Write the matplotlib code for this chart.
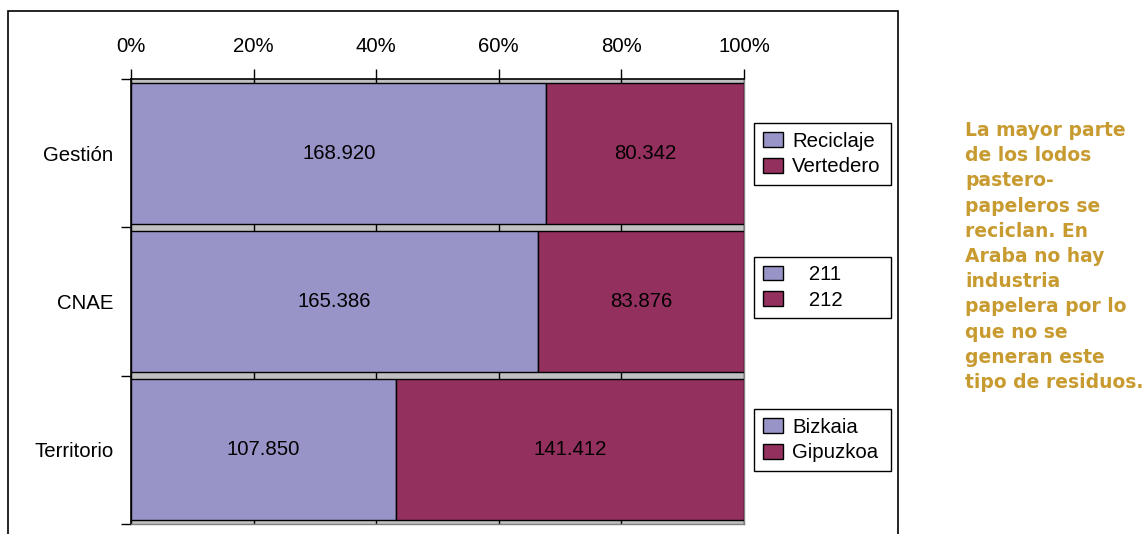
import matplotlib
matplotlib.use("Agg")
import matplotlib.pyplot as plt
from matplotlib.patches import Patch, Rectangle

plt.rcParams["font.family"] = ["Liberation Sans", "DejaVu Sans"]

# Data: tonnes of pulp and paper sludge split three ways
categories = ["Gestión", "CNAE", "Territorio"]
first_values = [168920, 165386, 107850]
second_values = [80342, 83876, 141412]
legend_labels = [("Reciclaje", "Vertedero"), ("   211", "   212"), ("Bizkaia", "Gipuzkoa")]
tick_values = [0, 0.2, 0.4, 0.6, 0.8, 1.0]
tick_labels = ["0%", "20%", "40%", "60%", "80%", "100%"]
note_lines = [
    "La mayor parte",
    "de los lodos",
    "pastero-",
    "papeleros se",
    "reciclan. En",
    "Araba no hay",
    "industria",
    "papelera por lo",
    "que no se",
    "generan este",
    "tipo de residuos.",
]

COLOR_A = "#9894C8"
COLOR_B = "#93305E"
NOTE_COLOR = "#C89B30"
FS = 14.7

W, H = 1144, 534
fig = plt.figure(figsize=(W / 100, H / 100), dpi=100)


def fx(px):
    return px / W


def fy(py):
    return 1 - py / H


# outer chart frame
fig.patches.append(Rectangle((fx(8), fy(560)), fx(898) - fx(8), fy(11) - fy(560),
                             transform=fig.transFigure, fill=False,
                             edgecolor="black", linewidth=1.2, clip_on=False))

ax = fig.add_axes([fx(131), fy(524), fx(744) - fx(131), fy(79) - fy(524)])
ax.set_facecolor("#C0C0C0")

ypos = list(range(len(categories)))
totals = [a + b for a, b in zip(first_values, second_values)]
share_a = [a / t for a, t in zip(first_values, totals)]
share_b = [b / t for b, t in zip(second_values, totals)]

bar_h = 0.95
ax.barh(ypos, share_a, height=bar_h, color=COLOR_A, edgecolor="black",
        linewidth=1.0, zorder=3)
ax.barh(ypos, share_b, left=share_a, height=bar_h, color=COLOR_B,
        edgecolor="black", linewidth=1.0, zorder=3)


def fmt(v):
    return f"{v:,}".replace(",", ".")


for y, a, b, va_, vb_ in zip(ypos, share_a, share_b, first_values, second_values):
    ax.text(a / 2, y, fmt(va_), ha="center", va="center", fontsize=FS, zorder=4)
    ax.text(a + b / 2, y, fmt(vb_), ha="center", va="center", fontsize=FS, zorder=4)

ax.set_xlim(0, 1)
ax.set_ylim(len(categories) - 0.5, -0.5)

# percentage axis on top
ax.xaxis.tick_top()
ax.set_xticks(tick_values)
ax.set_xticklabels(tick_labels, fontsize=FS)
ax.tick_params(axis="x", direction="out", length=7, width=1, pad=9.5, color="black")
ax.grid(axis="x", color="black", linewidth=1.0, zorder=1)
ax.set_axisbelow(True)

# category axis: ticks at boundaries, labels centred
ax.set_yticks([i - 0.5 for i in range(len(categories) + 1)])
ax.set_yticklabels([])
ax.set_yticks(ypos, minor=True)
ax.set_yticklabels(categories, minor=True, fontsize=FS)
ax.tick_params(axis="y", which="major", direction="out", length=7, width=1)
ax.tick_params(axis="y", which="minor", length=0, pad=12.5)

for side in ("top", "left"):
    ax.spines[side].set_color("black")
    ax.spines[side].set_linewidth(1.2)
for side in ("right", "bottom"):
    ax.spines[side].set_color("#808080")
    ax.spines[side].set_linewidth(1.0)

# one legend beside each bar
legend_boxes = [(754, 122, 186), (754, 255, 320), (754, 408, 472)]
for (lab_a, lab_b), (x0, y0, y1) in zip(legend_labels, legend_boxes):
    handles = [Patch(facecolor=COLOR_A, edgecolor="black", linewidth=1.0),
               Patch(facecolor=COLOR_B, edgecolor="black", linewidth=1.0)]
    leg = fig.legend(handles, [lab_a, lab_b], loc="center left",
                     bbox_to_anchor=(fx(x0), fy(y1), fx(891) - fx(x0), fy(y0) - fy(y1)),
                     bbox_transform=fig.transFigure, mode="expand",
                     fontsize=FS, frameon=True, fancybox=False, shadow=False,
                     borderpad=0.42, labelspacing=0.33, handlelength=1.0,
                     handleheight=0.75, handletextpad=0.45, borderaxespad=0)
    frame = leg.get_frame()
    frame.set_edgecolor("black")
    frame.set_linewidth(1.0)
    frame.set_alpha(1)

# side note
for i, line in enumerate(note_lines):
    fig.text(fx(965), fy(136 + i * 25.2), line, ha="left", va="baseline",
             fontsize=13.5, fontweight="bold", color=NOTE_COLOR,
             family="DejaVu Sans")

fig.savefig("out.png", dpi=100)
